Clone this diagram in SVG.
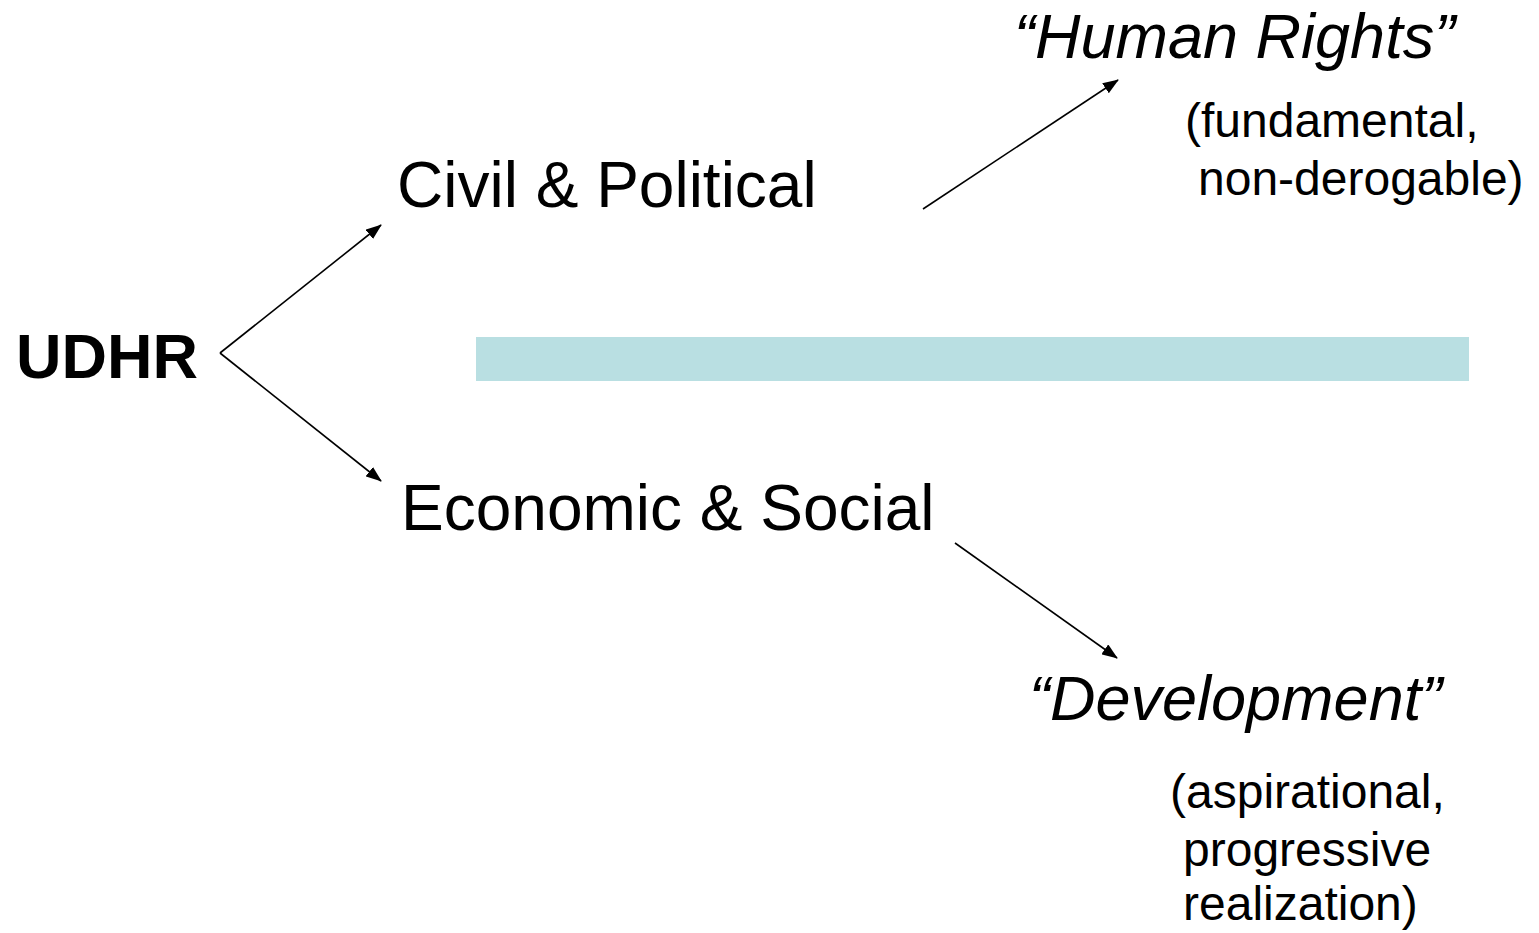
<svg xmlns="http://www.w3.org/2000/svg" width="1539" height="933" viewBox="0 0 1539 933">
<style>
text{font-family:"Liberation Sans",Arial,sans-serif;fill:#000}
.big{font-size:64px}
.it{font-size:63px;font-style:italic}
.sm{font-size:48px}
.conn line{stroke:#000;stroke-width:1.6;marker-end:url(#ah)}
</style>
<defs>
<marker id="ah" viewBox="0 0 16 12" refX="15" refY="6" markerWidth="16" markerHeight="12" markerUnits="userSpaceOnUse" orient="auto"><path d="M0,0 L16,6 L0,12 z" fill="#000"/></marker>
</defs>
<rect id="bar" x="476" y="337" width="993" height="44" fill="#B9DFE2"/>
<g id="udhr"><text x="16" y="378" font-weight="bold" style="font-size:63px">UDHR</text></g>
<g id="civil"><text x="397" y="207" class="big">Civil &amp; Political</text></g>
<g id="econ"><text x="401" y="530" class="big">Economic &amp; Social</text></g>
<g id="hr"><text x="1014" y="58" class="it">“Human Rights”</text>
<text x="1185" y="137" class="sm">(fundamental,</text>
<text x="1198" y="195" class="sm">non-derogable)</text></g>
<g id="dev"><text x="1029" y="720" class="it">“Development”</text>
<text x="1170" y="808" class="sm">(aspirational,</text>
<text x="1183" y="866" class="sm">progressive</text>
<text x="1183" y="920" class="sm">realization)</text></g>
<g class="conn" id="connectors">
<line x1="220" y1="353" x2="381" y2="225"/>
<line x1="220" y1="353" x2="381" y2="481"/>
<line x1="923" y1="209" x2="1118" y2="80"/>
<line x1="955" y1="543" x2="1117" y2="658"/>
</g>
</svg>
